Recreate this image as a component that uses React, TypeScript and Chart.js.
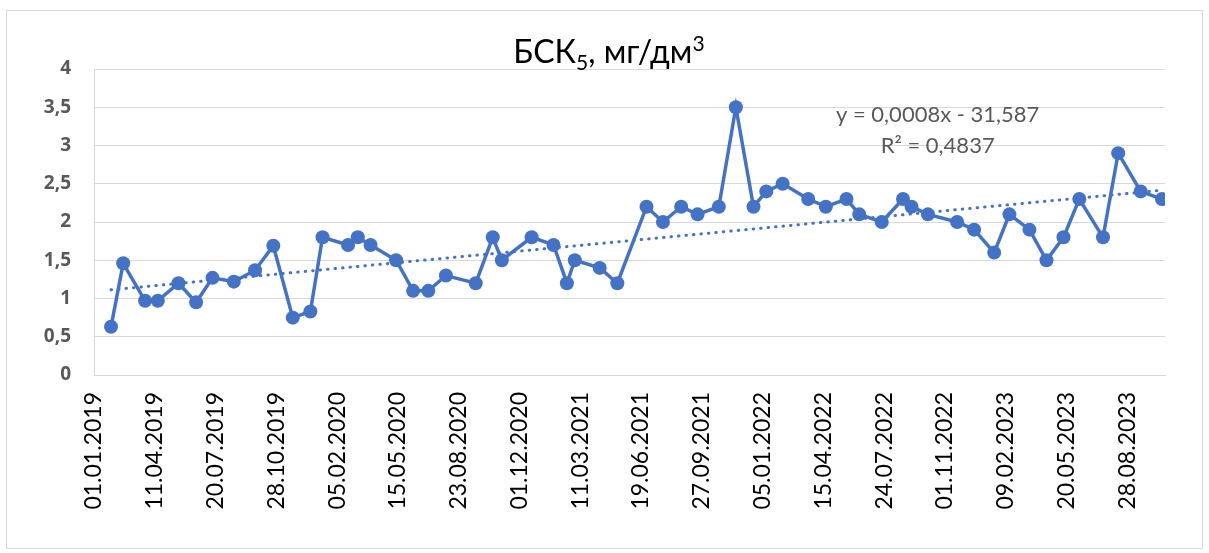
import React, { useEffect, useRef } from "react";
import { Chart, registerables } from "chart.js";

Chart.register(...registerables);

// ---- data ----
const sampleDates = [
  "29.01.2019", "18.02.2019", "26.03.2019", "16.04.2019", "20.05.2019", "18.06.2019",
  "15.07.2019", "19.08.2019", "23.09.2019", "23.10.2019", "24.11.2019", "23.12.2019",
  "12.01.2020", "23.02.2020", "10.03.2020", "31.03.2020", "12.05.2020", "09.06.2020",
  "04.07.2020", "02.08.2020", "20.09.2020", "18.10.2020", "02.11.2020", "21.12.2020",
  "26.01.2021", "17.02.2021", "02.03.2021", "12.04.2021", "11.05.2021", "28.06.2021",
  "25.07.2021", "24.08.2021", "20.09.2021", "25.10.2021", "22.11.2021", "21.12.2021",
  "11.01.2022", "07.02.2022", "21.03.2022", "19.04.2022", "23.05.2022", "13.06.2022",
  "20.07.2022", "24.08.2022", "07.09.2022", "04.10.2022", "21.11.2022", "19.12.2022",
  "21.01.2023", "15.02.2023", "20.03.2023", "17.04.2023", "15.05.2023", "10.06.2023",
  "19.07.2023", "13.08.2023", "19.09.2023", "24.10.2023",
];
const bodValues = [
  0.63, 1.46, 0.97, 0.97, 1.2, 0.95,
  1.27, 1.22, 1.37, 1.69, 0.75, 0.83,
  1.8, 1.7, 1.8, 1.7, 1.5, 1.1,
  1.1, 1.3, 1.2, 1.8, 1.5, 1.8,
  1.7, 1.2, 1.5, 1.4, 1.2, 2.2,
  2.0, 2.2, 2.1, 2.2, 3.5, 2.2,
  2.4, 2.5, 2.3, 2.2, 2.3, 2.1,
  2.0, 2.3, 2.2, 2.1, 2.0, 1.9,
  1.6, 2.1, 1.9, 1.5, 1.8, 2.3,
  1.8, 2.9, 2.4, 2.3,
];
const xTickLabels = [
  "01.01.2019", "11.04.2019", "20.07.2019", "28.10.2019", "05.02.2020", "15.05.2020",
  "23.08.2020", "01.12.2020", "11.03.2021", "19.06.2021", "27.09.2021", "05.01.2022",
  "15.04.2022", "24.07.2022", "01.11.2022", "09.02.2023", "20.05.2023", "28.08.2023",
];
const xAxisStart = "01.01.2019";
const xAxisEnd = "29.10.2023";
const yTickValues = [0, 0.5, 1, 1.5, 2, 2.5, 3, 3.5, 4];

const titleMain = "БСК";
const titleSub = "5";
const titleRest = ", мг/дм";
const titleSup = "3";
const trendEquation = "y = 0,0008x - 31,587";
const trendR2 = "R² = 0,4837";
const trendLabelDate = "20.10.2022";
const trendLabelValues = [3.4, 3.0];

// ---- helpers ----
const ORIGIN = Date.UTC(2019, 0, 1);
const toDay = (s: string) => {
  const [d, m, y] = s.split(".").map(Number);
  return Math.round((Date.UTC(y, m - 1, d) - ORIGIN) / 86400000);
};
const dayToLabel = (day: number) => {
  const dt = new Date(ORIGIN + day * 86400000);
  const dd = String(dt.getUTCDate()).padStart(2, "0");
  const mm = String(dt.getUTCMonth() + 1).padStart(2, "0");
  return `${dd}.${mm}.${dt.getUTCFullYear()}`;
};

const BLUE = "#4472C4";
const GRID = "#d9d9d9";
const FONT = "Lato, 'Open Sans', sans-serif";

export default function App() {
  const ref = useRef<HTMLCanvasElement | null>(null);

  useEffect(() => {
    if (!ref.current) return;
    const pts = sampleDates.map((d, i) => ({ x: toDay(d), y: bodValues[i] }));

    // least-squares trend line (as the spreadsheet's linear trendline)
    const n = pts.length;
    const mx = pts.reduce((s, p) => s + p.x, 0) / n;
    const my = pts.reduce((s, p) => s + p.y, 0) / n;
    let sxy = 0, sxx = 0;
    pts.forEach((p) => { sxy += (p.x - mx) * (p.y - my); sxx += (p.x - mx) ** 2; });
    const slope = sxy / sxx;
    const icpt = my - slope * mx;
    const x0 = pts[0].x, x1 = pts[n - 1].x;
    const trend = [
      { x: x0, y: icpt + slope * x0 },
      { x: x1, y: icpt + slope * x1 },
    ];

    const tickDays = xTickLabels.map(toDay);

    const decor = {
      id: "decor",
      beforeDraw(chart: any) {
        const c = chart.ctx;
        c.save();
        c.fillStyle = "#ffffff";
        c.fillRect(0, 0, chart.width, chart.height);
        c.strokeStyle = GRID;
        c.lineWidth = 1;
        c.strokeRect(6.5, 10.5, 1196, 538);
        c.restore();
      },
      afterDraw(chart: any) {
        const c = chart.ctx;
        c.save();
        // title with subscript / superscript
        const big = `32px ${FONT}`;
        const small = `21px ${FONT}`;
        c.font = big;
        const w1 = c.measureText(titleMain).width;
        const w3 = c.measureText(titleRest).width;
        c.font = small;
        const w2 = c.measureText(titleSub).width;
        const w4 = c.measureText(titleSup).width;
        const total = w1 + w2 + w3 + w4;
        let x = 609 - total / 2;
        const base = 63;
        c.fillStyle = "#000000";
        c.textBaseline = "alphabetic";
        c.textAlign = "left";
        c.font = big;
        c.fillText(titleMain, x, base);
        x += w1;
        c.font = small;
        c.fillText(titleSub, x, base + 7);
        x += w2;
        c.font = big;
        c.fillText(titleRest, x, base);
        x += w3;
        c.font = small;
        c.fillText(titleSup, x, base - 12);

        // trend equation
        const xs = chart.scales.x, ys = chart.scales.y;
        const lx = xs.getPixelForValue(toDay(trendLabelDate));
        c.font = `22px ${FONT}`;
        c.fillStyle = "#595959";
        c.textAlign = "center";
        c.textBaseline = "middle";
        c.fillText(trendEquation, lx, ys.getPixelForValue(trendLabelValues[0]));
        c.fillText(trendR2, lx, ys.getPixelForValue(trendLabelValues[1]));
        c.restore();
      },
    };

    const chart = new Chart(ref.current, {
      type: "line",
      data: {
        datasets: [
          {
            label: "trend",
            data: trend,
            borderColor: BLUE,
            borderWidth: 3,
            borderDash: [0.5, 7],
            borderCapStyle: "round",
            pointRadius: 0,
            fill: false,
          },
          {
            label: "БСК5",
            data: pts,
            borderColor: BLUE,
            backgroundColor: BLUE,
            borderWidth: 3.5,
            pointRadius: 7,
            pointBackgroundColor: BLUE,
            pointBorderWidth: 0,
            tension: 0,
            fill: false,
          },
        ],
      },
      options: {
        animation: false,
        responsive: false,
        maintainAspectRatio: false,
        layout: { padding: { left: 0, top: 69, right: 44, bottom: 0 } },
        plugins: {
          legend: { display: false },
          title: { display: false },
          tooltip: { enabled: false },
        },
        scales: {
          x: {
            type: "linear",
            min: toDay(xAxisStart),
            max: toDay(xAxisEnd),
            afterBuildTicks: (scale: any) => {
              scale.ticks = tickDays.map((v) => ({ value: v }));
            },
            afterFit: (scale: any) => { scale.height = 178; },
            grid: { display: false, drawTicks: false },
            border: { display: true, color: GRID, width: 1 },
            ticks: {
              autoSkip: false,
              maxRotation: 90,
              minRotation: 90,
              padding: 17,
              color: "#000000",
              font: { family: FONT, size: 23 },
              callback: (v: any) => dayToLabel(Number(v)),
            },
          },
          y: {
            min: 0,
            max: 4,
            afterBuildTicks: (scale: any) => {
              scale.ticks = yTickValues.map((v) => ({ value: v }));
            },
            afterFit: (scale: any) => { scale.width = 94; },
            grid: { color: GRID, lineWidth: 1, drawTicks: false },
            border: { display: true, color: GRID, width: 1 },
            ticks: {
              padding: 23,
              color: "#595959",
              font: { family: "'Open Sans', sans-serif", size: 19, weight: "700" },
              callback: (v: any) => String(v).replace(".", ","),
            },
          },
        },
      },
      plugins: [decor],
    } as any);

    return () => chart.destroy();
  }, []);

  return (
    <div style={{ position: "fixed", left: 0, top: 0, width: 1209, height: 553 }}>
      <canvas ref={ref} width={1209} height={553} style={{ width: 1209, height: 553, display: "block" }} />
    </div>
  );
}
